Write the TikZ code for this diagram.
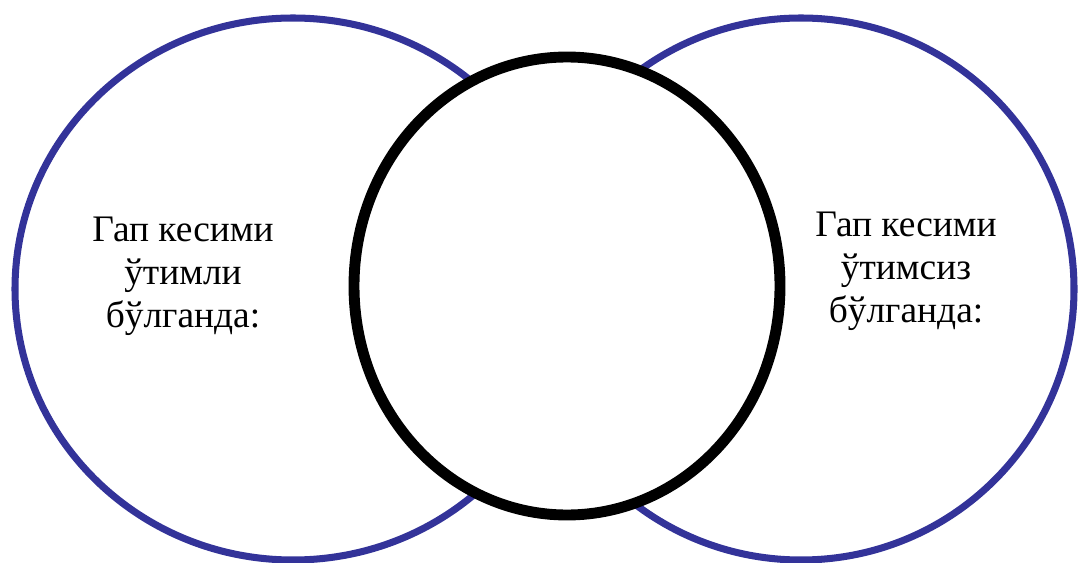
\documentclass[tikz,border=0pt]{standalone}
\usepackage{fontspec}
\setmainfont{Liberation Serif}
\usepackage{tikz}
\usetikzlibrary{shapes.geometric}
\definecolor{ringblue}{RGB}{51,51,153}
\tikzset{
    outerring/.style={
        draw=ringblue,
        ellipse,
        line width=4pt,
        minimum width=11.0cm,
        minimum height=10.84cm,
        inner sep=0pt
    },
    middlering/.style={
        draw=black,
        fill=white,
        ellipse,
        line width=6.2pt,
        minimum width=8.52cm,
        minimum height=9.16cm,
        inner sep=0pt
    },
    ringtext/.style={
        align=center,
        font=\fontsize{21.3}{24.5}\selectfont
    }
}

\begin{document}
\begin{tikzpicture}

\useasboundingbox (0,0) rectangle (21.56,-11.26);

% outer rings
\node[outerring, minimum width=11.12cm] (leftring) at (5.86,-5.78) {};
\node[outerring, minimum width=10.92cm] (rightring) at (16.02,-5.78) {};

% middle ring on top
\node[middlering] (midring) at (11.34,-5.72) {};

% labels
\node[ringtext] (lefttext) at (3.66,-5.52)
{Гап кесими\\ўтимли\\бўлганда:};

\node[ringtext] (righttext) at (18.12,-5.42)
{Гап кесими\\ўтимсиз\\бўлганда:};

\end{tikzpicture}
\end{document}
